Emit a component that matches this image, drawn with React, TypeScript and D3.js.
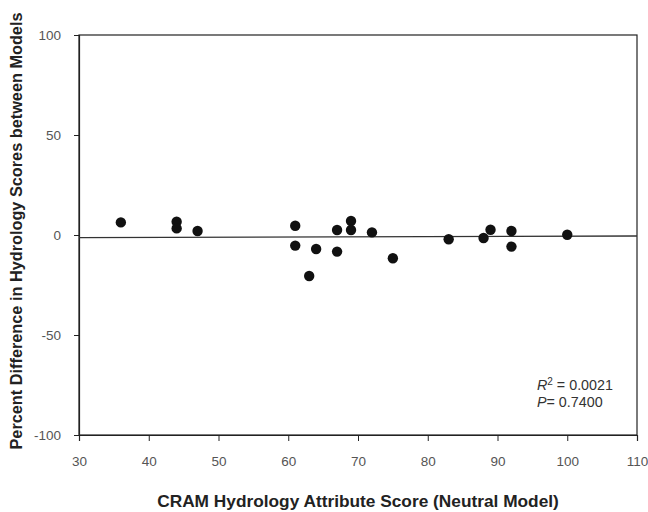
import { useEffect, useRef } from "react";
import { select, scaleLinear, axisBottom, axisLeft, line } from "d3";

// CRAM hydrology score (neutral model) vs percent difference
const xValues = [36, 44, 44, 47, 61, 61, 63, 64, 67, 67, 69, 69, 72, 75, 83, 88, 89, 92, 92, 100];
const yValues = [6.3, 6.6, 3.3, 2, 4.6, -5.3, -20.5, -7, 2.5, -8.3, 7, 2.5, 1.3, -11.6, -2.1, -1.5, 2.6, 2, -5.8, 0.1];

// fitted trend line end points
const fitX = [30, 110];
const fitY = [-1.3, -0.5];

const xTicks = [30, 40, 50, 60, 70, 80, 90, 100, 110];
const yTicks = [-100, -50, 0, 50, 100];

const width = 648;
const height = 512;
const margin = { top: 35, right: 11, bottom: 75, left: 79 };
const font = "'Liberation Sans', Arial, sans-serif";

export default function App() {
  const ref = useRef<SVGSVGElement>(null);

  useEffect(() => {
    if (!ref.current) return;
    const svg = select(ref.current);
    svg.selectAll("*").remove();

    const x = scaleLinear().domain([30, 110]).range([margin.left, width - margin.right]);
    const y = scaleLinear().domain([-100, 100]).range([height - margin.bottom - 2, margin.top]);

    // plot frame
    svg
      .append("rect")
      .attr("x", x(30))
      .attr("y", y(100))
      .attr("width", x(110) - x(30))
      .attr("height", y(-100) - y(100))
      .attr("fill", "none")
      .attr("stroke", "#222")
      .attr("stroke-width", 1.2);

    // axes (plain hyphen for negatives, like the original)
    const gx = svg
      .append("g")
      .attr("transform", `translate(0, ${y(-100)})`)
      .call(axisBottom(x).tickValues(xTicks).tickFormat((d) => String(d)).tickSize(6).tickPadding(15));
    const gy = svg
      .append("g")
      .attr("transform", `translate(${x(30)}, 0)`)
      .call(axisLeft(y).tickValues(yTicks).tickFormat((d) => String(d)).tickSize(5).tickPadding(13));

    [gx, gy].forEach((g) => {
      g.select(".domain").attr("stroke", "#222").attr("stroke-width", 1.2);
      g.selectAll(".tick line").attr("stroke", "#222");
      g.selectAll(".tick text")
        .attr("font-family", font)
        .attr("font-size", "13.5px")
        .attr("fill", "#555");
    });

    // trend line
    const pts = fitX.map((d, i) => [d, fitY[i]] as [number, number]);
    svg
      .append("path")
      .attr(
        "d",
        line<[number, number]>()
          .x((d) => x(d[0]))
          .y((d) => y(d[1]))(pts)
      )
      .attr("stroke", "#333")
      .attr("stroke-width", 1.3)
      .attr("fill", "none");

    // points
    svg
      .append("g")
      .selectAll("circle")
      .data(xValues)
      .enter()
      .append("circle")
      .attr("cx", (d) => x(d))
      .attr("cy", (d, i) => y(yValues[i]))
      .attr("r", 5.2)
      .attr("fill", "#111");

    // statistics
    const stats = svg
      .append("g")
      .attr("font-family", font)
      .attr("font-size", "14.3px")
      .attr("fill", "#333");
    const r2 = stats.append("text").attr("x", 537).attr("y", 390);
    r2.append("tspan").attr("font-style", "italic").text("R");
    r2.append("tspan").attr("font-size", "10px").attr("dy", -5).text("2");
    r2.append("tspan").attr("dy", 5).text(" = 0.0021");
    const p = stats.append("text").attr("x", 537).attr("y", 407);
    p.append("tspan").attr("font-style", "italic").text("P");
    p.append("tspan").text("= 0.7400");

    // axis titles
    svg
      .append("text")
      .attr("x", (x(30) + x(110)) / 2)
      .attr("y", 507)
      .attr("text-anchor", "middle")
      .attr("font-family", font)
      .attr("font-size", "17.3px")
      .attr("font-weight", "bold")
      .attr("fill", "#222")
      .text("CRAM Hydrology Attribute Score (Neutral Model)");

    svg
      .append("text")
      .attr("transform", `translate(22, 231) rotate(-90)`)
      .attr("text-anchor", "middle")
      .attr("font-family", font)
      .attr("font-size", "16.3px")
      .attr("font-weight", "bold")
      .attr("fill", "#222")
      .text("Percent Difference in Hydrology Scores between Models");
  }, []);

  return (
    <svg
      ref={ref}
      width={width}
      height={height}
      style={{ position: "absolute", left: 0, top: 0, background: "#fff" }}
    />
  );
}
